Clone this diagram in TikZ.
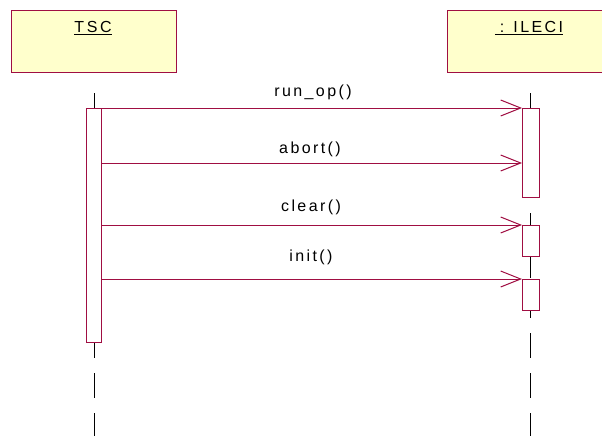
\documentclass[tikz,border=0pt]{standalone}
\usepackage{fontspec}
\setmainfont{Liberation Sans}[LetterSpace=15]
\usepackage{tikz}
\usetikzlibrary{arrows.meta,positioning}
\definecolor{msgred}{RGB}{160,14,66}
\definecolor{objfill}{RGB}{255,255,204}

\tikzset{
  object/.style={draw=msgred,fill=objfill,line width=1pt,inner sep=0pt,anchor=north west},
  lifeline/.style={draw=black,line width=0.8pt,dash pattern=on 25pt off 15pt},
  activation/.style={draw=msgred,fill=white,line width=1pt,inner sep=0pt,anchor=north west},
  message/.style={draw=msgred,line width=1pt,-{Straight Barb[length=20pt,width=16pt,line width=1pt]}},
  msglabel/.style={anchor=base,inner sep=0pt,font=\fontsize{16}{18}\selectfont}
}

\begin{document}
\begin{tikzpicture}[x=1pt,y=-1pt]
  \useasboundingbox (0,0) rectangle (602,436);

  % objects
  \node[object,minimum width=165pt,minimum height=62pt] (tsc) at (11,10) {};
  \node[object,minimum width=160pt,minimum height=62pt] (ileci) at (447,10) {};
  \node[msglabel] (tscname) at (93,33) {\underline{T\,S\,C}};
  \node[msglabel] (iname) at (529,33) {\underline{\hspace{5pt}:\hspace{9pt}ILECI}};

  % lifelines
  \coordinate (tsctop) at (94,93);
  \coordinate (tscend) at (94,440);
  \coordinate (itop) at (530,93);
  \coordinate (iend) at (530,440);
  \draw[lifeline] (tsctop) -- (tscend);
  \draw[lifeline] (itop) -- (iend);

  % activations
  \node[activation,minimum width=15pt,minimum height=234pt] (tscact) at (86,108) {};
  \node[activation,minimum width=17pt,minimum height=89pt] (iact1) at (522,108) {};
  \node[activation,minimum width=17pt,minimum height=31pt] (iact2) at (522,225) {};
  \node[activation,minimum width=17pt,minimum height=31pt] (iact3) at (522,279) {};

  % messages
  \coordinate (m1) at (0,108);
  \coordinate (m2) at (0,163);
  \coordinate (m3) at (0,225);
  \coordinate (m4) at (0,279);
  \draw[message] (tscact.east |- m1) -- (iact1.west |- m1);
  \draw[message] (tscact.east |- m2) -- (iact1.west |- m2);
  \draw[message] (tscact.east |- m3) -- (iact2.west |- m3);
  \draw[message] (tscact.east |- m4) -- (iact3.west |- m4);

  \node[msglabel] (l1) at (313,96) {run\_op()};
  \node[msglabel] (l2) at (310,153) {abort()};
  \node[msglabel] (l3) at (311,211) {clear()};
  \node[msglabel] (l4) at (311,261) {init()};
\end{tikzpicture}
\end{document}
